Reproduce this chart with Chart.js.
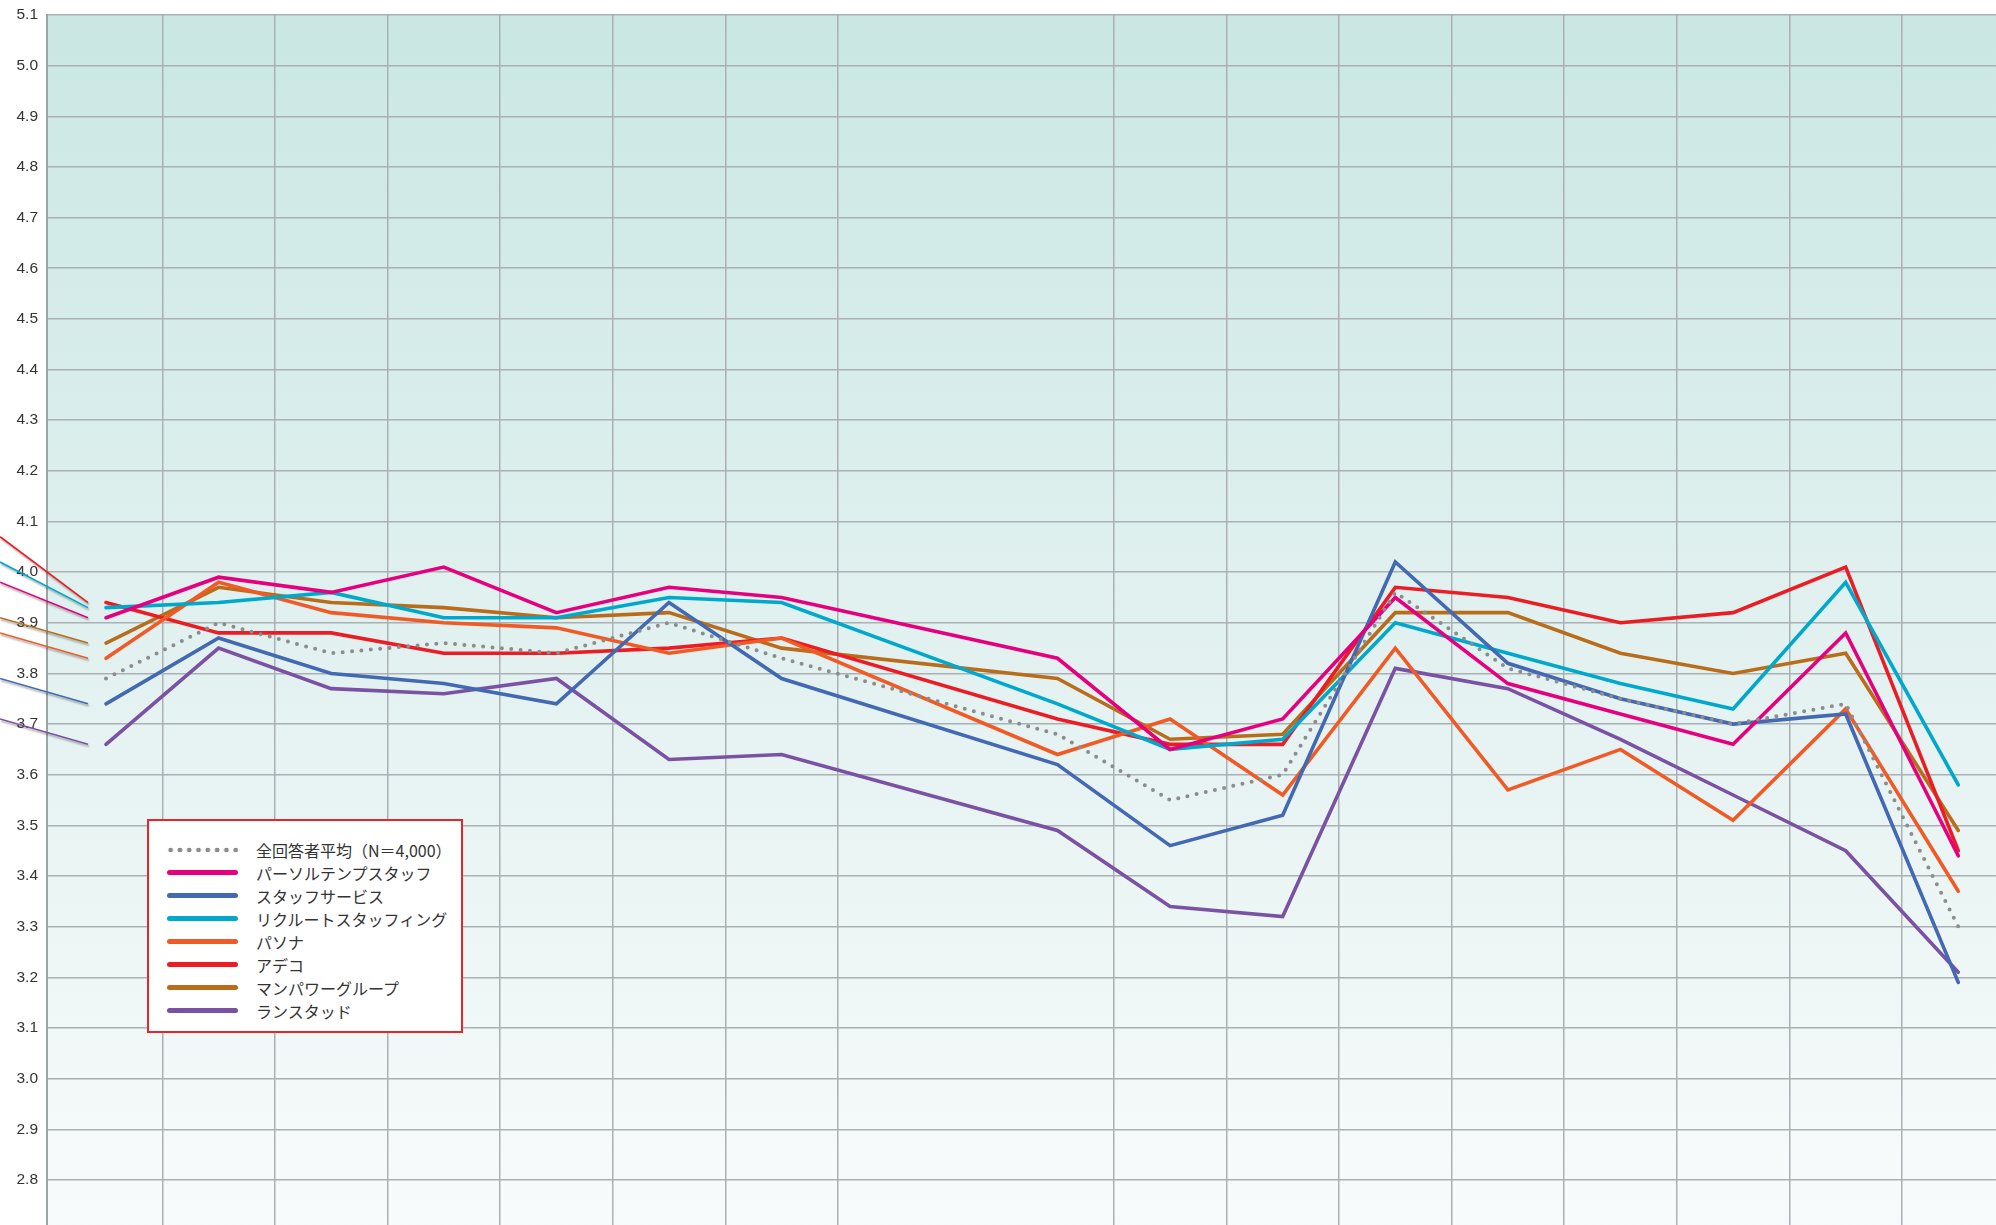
<!DOCTYPE html>
<html lang="ja">
<head>
<meta charset="utf-8">
<title>派遣会社別 評価推移</title>
<script src="https://cdn.jsdelivr.net/npm/chart.js@4.4.1/dist/chart.umd.min.js"></script>
<style>
  html, body { margin: 0; padding: 0; background: #fff; overflow: hidden; }
  #wrap { position: relative; width: 1996px; height: 1225px; }
  #legend {
    position: absolute; left: 147px; top: 819px; width: 316px; height: 214px;
    box-sizing: border-box; border: 2px solid #e8242c; background: #fff;
    padding-top: 17px;
    font-family: "Noto Sans CJK JP", "Noto Sans", sans-serif; font-size: 16px; color: #333;
  }
  #legend ul { list-style: none; margin: 0; padding: 0; }
  #legend li { height: 23px; display: flex; align-items: center; white-space: nowrap; }
  #legend .swatch { flex: none; width: 71px; height: 5px; margin-left: 18px; margin-right: 18px; border-radius: 3px; }
  #legend .dots {
    height: 6px; border-radius: 0;
    background: radial-gradient(circle, #8c8c8c 2.1px, transparent 2.6px) -1px 0 / 9.3px 6px repeat-x;
  }
</style>
</head>
<body>
<div id="wrap">
  <canvas id="trend" width="1996" height="1225"></canvas>
  <div id="legend"></div>
</div>
<script>
// 16 evaluation items (no labels shown on the axis in the original)
var items = ['項目1', '項目2', '項目3', '項目4', '項目5', '項目6', '項目7', '項目8',
             '項目9', '項目10', '項目11', '項目12', '項目13', '項目14', '項目15', '項目16'];

var seriesNames = ['全回答者平均（N＝4,000）', 'パーソルテンプスタッフ', 'スタッフサービス',
                   'リクルートスタッフィング', 'パソナ', 'アデコ', 'マンパワーグループ', 'ランスタッド'];

var avgAll      = [3.79, 3.90, 3.84, 3.86, 3.84, 3.90, 3.83, 3.68, 3.55, 3.60, 3.96, 3.81, 3.75, 3.70, 3.74, 3.30];
var persolTemp  = [3.91, 3.99, 3.96, 4.01, 3.92, 3.97, 3.95, 3.83, 3.65, 3.71, 3.95, 3.78, 3.72, 3.66, 3.88, 3.44];
var staffServ   = [3.74, 3.87, 3.80, 3.78, 3.74, 3.94, 3.79, 3.62, 3.46, 3.52, 4.02, 3.82, 3.75, 3.70, 3.72, 3.19];
var recruitSt   = [3.93, 3.94, 3.96, 3.91, 3.91, 3.95, 3.94, 3.74, 3.65, 3.67, 3.90, 3.84, 3.78, 3.73, 3.98, 3.58];
var pasona      = [3.83, 3.98, 3.92, 3.90, 3.89, 3.84, 3.87, 3.64, 3.71, 3.56, 3.85, 3.57, 3.65, 3.51, 3.73, 3.37];
var adecco      = [3.94, 3.88, 3.88, 3.84, 3.84, 3.85, 3.87, 3.71, 3.66, 3.66, 3.97, 3.95, 3.90, 3.92, 4.01, 3.45];
var manpower    = [3.86, 3.97, 3.94, 3.93, 3.91, 3.92, 3.85, 3.79, 3.67, 3.68, 3.92, 3.92, 3.84, 3.80, 3.84, 3.49];
var randstad    = [3.66, 3.85, 3.77, 3.76, 3.79, 3.63, 3.64, 3.49, 3.34, 3.32, 3.81, 3.77, 3.67, 3.56, 3.45, 3.21];

// leader lines coming in from the left edge (pink, blue, cyan, orange, red, brown, purple)
var leadFrom = [3.98, 3.79, 4.02, 3.88, 4.07, 3.91, 3.71];
var leadTo   = [3.91, 3.74, 3.93, 3.83, 3.94, 3.86, 3.66];

var yTicks = [2.8, 2.9, 3.0, 3.1, 3.2, 3.3, 3.4, 3.5, 3.6, 3.7, 3.8, 3.9, 4.0, 4.1, 4.2, 4.3, 4.4, 4.5, 4.6, 4.7, 4.8, 4.9, 5.0, 5.1];

var allSeries = [avgAll, persolTemp, staffServ, recruitSt, pasona, adecco, manpower, randstad];
var colors = ['#8c8c8c', '#e6007e', '#4269b2', '#00a8cc', '#f15a24', '#ec1c24', '#b96d1b', '#7b52a3'];

// the original leaves a wider column after item 7
function xAt(i) { return i < 7 ? i : i + 1.45; }

var datasets = allSeries.map(function (vals, k) {
    return {
        label: seriesNames[k],
        data: vals.map(function (v, i) { return { x: xAt(i), y: v }; }),
        borderColor: colors[k],
        borderWidth: k === 0 ? 4 : 3.6,
        borderDash: k === 0 ? [0, 9.4] : [],
        borderCapStyle: 'round',
        borderJoinStyle: 'miter',
        pointRadius: 0,
        dotted: k === 0
    };
});

leadFrom.forEach(function (v, k) {
    datasets.push({
        label: '',
        data: [{ x: -0.941, y: v }, { x: -0.16, y: leadTo[k] }],
        borderColor: colors[k + 1],
        borderWidth: 1.6,
        pointRadius: 0,
        clip: false,
        lead: true
    });
});

var bgPlugin = {
    id: 'bg',
    beforeDraw: function (chart) {
        var a = chart.chartArea, ctx = chart.ctx;
        var g = ctx.createLinearGradient(0, a.top, 0, a.bottom);
        g.addColorStop(0, '#cae7e4');
        g.addColorStop(1, '#f8fbfb');
        ctx.save();
        ctx.fillStyle = g;
        ctx.fillRect(a.left, a.top, a.right - a.left, a.bottom - a.top);
        ctx.restore();
    }
};

var shadowPlugin = {
    id: 'leadShadow',
    beforeDatasetDraw: function (chart, args) {
        if (!args.meta._dataset.lead) return;
        var ctx = chart.ctx;
        ctx.save();
        ctx.shadowColor = 'rgba(0,0,0,0.35)';
        ctx.shadowOffsetX = 1;
        ctx.shadowOffsetY = 2;
        ctx.shadowBlur = 2;
    },
    afterDatasetDraw: function (chart, args) {
        if (args.meta._dataset.lead) chart.ctx.restore();
    }
};

var legendPlugin = {
    id: 'htmlLegend',
    afterUpdate: function (chart) {
        var box = document.getElementById('legend');
        var ul = document.createElement('ul');
        chart.data.datasets.forEach(function (ds) {
            if (ds.lead) return;
            var li = document.createElement('li');
            var sw = document.createElement('span');
            sw.className = ds.dotted ? 'swatch dots' : 'swatch';
            if (!ds.dotted) sw.style.background = ds.borderColor;
            var tx = document.createElement('span');
            tx.textContent = ds.label;
            li.appendChild(sw);
            li.appendChild(tx);
            ul.appendChild(li);
        });
        box.innerHTML = '';
        box.appendChild(ul);
    }
};

var contexto = document.getElementById('trend').getContext('2d');

var grafico = new Chart(contexto, {
    type: 'line',
    data: { datasets: datasets },
    options: {
        responsive: false,
        animation: false,
        layout: { padding: { top: 15, right: 0, bottom: 0, left: 0 } },
        plugins: { legend: { display: false }, tooltip: { enabled: false } },
        scales: {
            x: {
                type: 'linear',
                min: -0.524,
                max: 16.785,
                afterBuildTicks: function (s) {
                    s.ticks = items.map(function (_, i) { return { value: xAt(i) + 0.5 }; })
                                   .filter(function (t) { return t.value < s.max; });
                },
                afterFit: function (s) { s.height = 0; s.paddingLeft = 0; s.paddingRight = 0; },
                ticks: { display: false },
                grid: { color: '#aab0b3', lineWidth: 1.5, drawTicks: false },
                border: { display: false }
            },
            y: {
                min: 2.711,
                max: 5.1,
                afterBuildTicks: function (s) {
                    s.ticks = yTicks.map(function (v) { return { value: v }; });
                },
                afterFit: function (s) { s.width = 47; s.paddingTop = 0; s.paddingBottom = 0; },
                ticks: {
                    padding: 9,
                    color: '#333',
                    font: { family: 'Liberation Sans', size: 15.5 },
                    callback: function (v) { return Number(v).toFixed(1); }
                },
                grid: { color: '#aab0b3', lineWidth: 1.5, drawTicks: false },
                border: { color: '#9ea3a6', width: 2 }
            }
        }
    },
    plugins: [bgPlugin, shadowPlugin, legendPlugin]
});
</script>
</body>
</html>
